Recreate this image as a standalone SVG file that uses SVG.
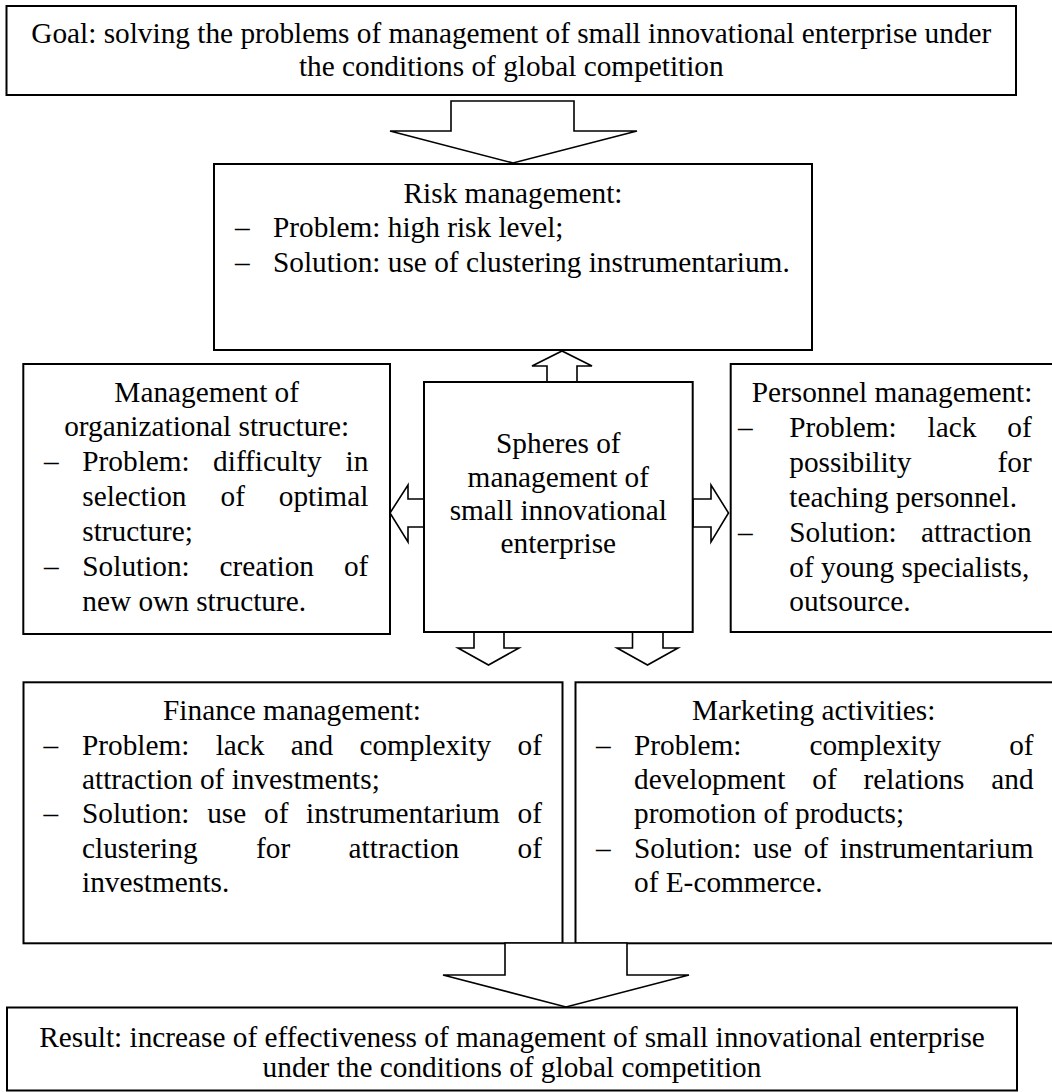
<svg xmlns="http://www.w3.org/2000/svg" width="1052" height="1092" viewBox="0 0 1052 1092">
<style>
.box{fill:#fff;stroke:#000;stroke-width:2}
.arr{fill:#fff;stroke:#000;stroke-width:1.6;stroke-linejoin:miter}
.t{font-family:"Liberation Serif","Times New Roman",serif;font-size:29.3px;fill:#000}
.c{text-anchor:middle}
</style>
<rect width="1052" height="1092" fill="#fff"/>
<g id="connectors">
<polygon class="arr" points="451,101 574,101 574,131 637,131 513,163 390,131 451,131"/>
<polygon class="arr" points="547,382 547,366 532,366 562,351 592,366 577,366 577,382"/>
<polygon class="arr" points="424,499 408,499 408,485 390,513 408,542 408,527 424,527"/>
<polygon class="arr" points="693,499 711,499 711,485 728.5,513 711,542 711,527 693,527"/>
<polygon class="arr" points="474,632 474,648 458,648 488.5,665 519,648 504,648 504,632"/>
<polygon class="arr" points="632.5,632 632.5,648 617,648 647.5,665 678,648 663,648 663,632"/>
</g>
<g id="goal">
<rect class="box" x="6.5" y="6" width="1009.5" height="89"/>
<text class="t c" x="511.3" y="43">Goal: solving the problems of management of small innovational enterprise under</text>
<text class="t c" x="511.3" y="76">the conditions of global competition</text>
</g>
<g id="risk">
<rect class="box" x="214" y="164" width="598" height="186"/>
<text class="t c" x="513" y="203">Risk management:</text>
<text class="t" x="235" y="237">–</text><text class="t" x="273" y="237">Problem: high risk level;</text>
<text class="t" x="235" y="272">–</text><text class="t" x="273" y="272">Solution: use of clustering instrumentarium.</text>
</g>
<g id="spheres">
<rect class="box" x="424" y="382" width="268.7" height="250"/>
<text class="t c" x="558.3" y="453">Spheres of</text>
<text class="t c" x="558.3" y="486.5">management of</text>
<text class="t c" x="558.3" y="520">small innovational</text>
<text class="t c" x="558.3" y="553">enterprise</text>
</g>
<g id="organizational">
<rect class="box" x="23.3" y="364" width="366.7" height="270"/>
<text class="t c" x="206.7" y="401.5">Management of</text>
<text class="t c" x="206.7" y="436">organizational structure:</text>
<text class="t" x="44" y="471">–</text>
<text class="t" y="471"><tspan x="82.3">Problem:</tspan><tspan x="213.1">difficulty</tspan><tspan x="345.5">in</tspan></text>
<text class="t" y="506"><tspan x="82.3">selection</tspan><tspan x="220.5">of</tspan><tspan x="278.8">optimal</tspan></text>
<text class="t" x="82.3" y="541">structure;</text>
<text class="t" x="44" y="576">–</text>
<text class="t" y="576"><tspan x="82.3">Solution:</tspan><tspan x="219.6">creation</tspan><tspan x="343.9">of</tspan></text>
<text class="t" x="82.3" y="610.5">new own structure.</text>
</g>
<g id="personnel">
<rect class="box" x="730.7" y="364" width="330" height="268"/>
<text class="t" x="751.7" y="401.7">Personnel management:</text>
<text class="t" x="738" y="436.7">–</text>
<text class="t" y="436.7"><tspan x="789.3">Problem:</tspan><tspan x="927.6">lack</tspan><tspan x="1007.3">of</tspan></text>
<text class="t" y="471.7"><tspan x="789.3">possibility</tspan><tspan x="997.5">for</tspan></text>
<text class="t" x="789.3" y="506.7">teaching personnel.</text>
<text class="t" x="738" y="541.7">–</text>
<text class="t" y="541.7"><tspan x="789.3">Solution:</tspan><tspan x="921">attraction</tspan></text>
<text class="t" x="789.3" y="576.7">of young specialists,</text>
<text class="t" x="789.3" y="610.7">outsource.</text>
</g>
<g id="finance">
<rect class="box" x="23.5" y="682.3" width="539" height="261"/>
<text class="t c" x="292" y="720">Finance management:</text>
<text class="t" x="43.6" y="754.5">–</text>
<text class="t" y="754.5"><tspan x="82">Problem:</tspan><tspan x="215.7">lack</tspan><tspan x="290.8">and</tspan><tspan x="359.4">complexity</tspan><tspan x="517.6">of</tspan></text>
<text class="t" x="82" y="788.5">attraction of investments;</text>
<text class="t" x="43.6" y="823">–</text>
<text class="t" y="823"><tspan x="82">Solution:</tspan><tspan x="207.2">use</tspan><tspan x="264">of</tspan><tspan x="306.1">instrumentarium</tspan><tspan x="517.6">of</tspan></text>
<text class="t" y="857.7"><tspan x="82">clustering</tspan><tspan x="256">for</tspan><tspan x="348.6">attraction</tspan><tspan x="517.6">of</tspan></text>
<text class="t" x="82" y="891.7">investments.</text>
</g>
<g id="marketing">
<rect class="box" x="575.5" y="682.3" width="485" height="261"/>
<text class="t c" x="813.7" y="720">Marketing activities:</text>
<text class="t" x="596" y="754.5">–</text>
<text class="t" y="754.5"><tspan x="634">Problem:</tspan><tspan x="809.4">complexity</tspan><tspan x="1009.2">of</tspan></text>
<text class="t" y="788.5"><tspan x="634">development</tspan><tspan x="812.3">of</tspan><tspan x="863.6">relations</tspan><tspan x="991.3">and</tspan></text>
<text class="t" x="634" y="823">promotion of products;</text>
<text class="t" x="596" y="857.7">–</text>
<text class="t" x="634" y="857.7" word-spacing="4.3">Solution: use of instrumentarium</text>
<text class="t" x="634" y="891.7">of E-commerce.</text>
</g>
<g id="connectors-bottom">
<polygon class="arr" points="505,943 627,943 627,975 689,975 566,1007 443,975 505,975"/>
</g>
<g id="result">
<rect class="box" x="7" y="1007.5" width="1010" height="83"/>
<text class="t c" x="512" y="1046.5">Result: increase of effectiveness of management of small innovational enterprise</text>
<text class="t c" x="512" y="1077">under the conditions of global competition</text>
</g>
</svg>
